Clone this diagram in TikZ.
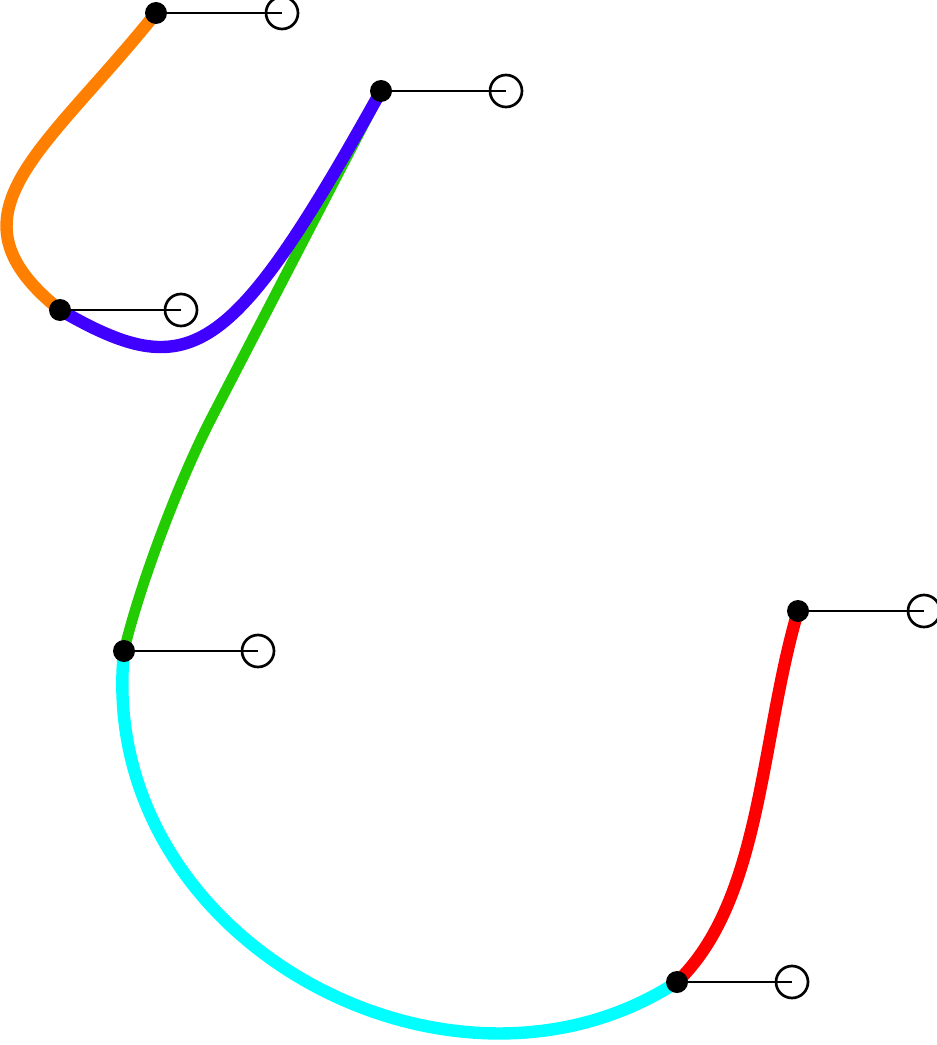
\documentclass[tikz,border=0pt]{standalone}
\begin{document}
\begin{tikzpicture}[x=0.75pt,y=-0.75pt,
  curve/.style={line width=9.3pt},
  thin curve/.style={line width=8pt},
  handle/.style={line width=2pt,black},
  knot/.style={circle,fill=black,inner sep=0pt,minimum size=16.5pt},
  grip/.style={circle,draw=black,line width=2pt,inner sep=0pt,minimum size=24pt}]
\definecolor{corange}{RGB}{255,128,0}
\definecolor{cblue}{RGB}{64,0,255}
\definecolor{cgreen}{RGB}{34,204,0}
\definecolor{ccyan}{RGB}{0,255,255}
\definecolor{cred}{RGB}{255,0,0}
\useasboundingbox (0,0) rectangle (937,1045);
% knot positions
\coordinate (P1) at (156,13);
\coordinate (P2) at (381,91);
\coordinate (P3) at (60,310);
\coordinate (P4) at (124,651);
\coordinate (P5) at (798,611);
\coordinate (P6) at (677,982);
\coordinate (S) at (213,415);
% curves
\draw[thin curve,cgreen] (P2) .. controls (325,199) and (269,307) .. (S) .. controls (176,486) and (137.6,592.6) .. (P4);
\draw[curve,ccyan] (P4) .. controls (95,940) and (450,1130) .. (P6);
\draw[curve,cred] (P6) .. controls (762,900) and (760,740) .. (P5);
\draw[curve,corange] (P1) .. controls (44,153) and (-60,214) .. (P3);
\draw[curve,cblue] (P3) .. controls (190,385) and (230,362) .. (P2);
% handles
\node[grip] (H1) at (282,13) {};
\node[grip] (H2) at (506,91) {};
\node[grip] (H3) at (181,310) {};
\node[grip] (H4) at (258,651) {};
\node[grip] (H5) at (924,611) {};
\node[grip] (H6) at (792,982) {};
\node[knot] (K1) at (P1) {};
\node[knot] (K2) at (P2) {};
\node[knot] (K3) at (P3) {};
\node[knot] (K4) at (P4) {};
\node[knot] (K5) at (P5) {};
\node[knot] (K6) at (P6) {};
\foreach \i in {1,...,6} \draw[handle] (K\i.center) -- (H\i.center);
\end{tikzpicture}
\end{document}
